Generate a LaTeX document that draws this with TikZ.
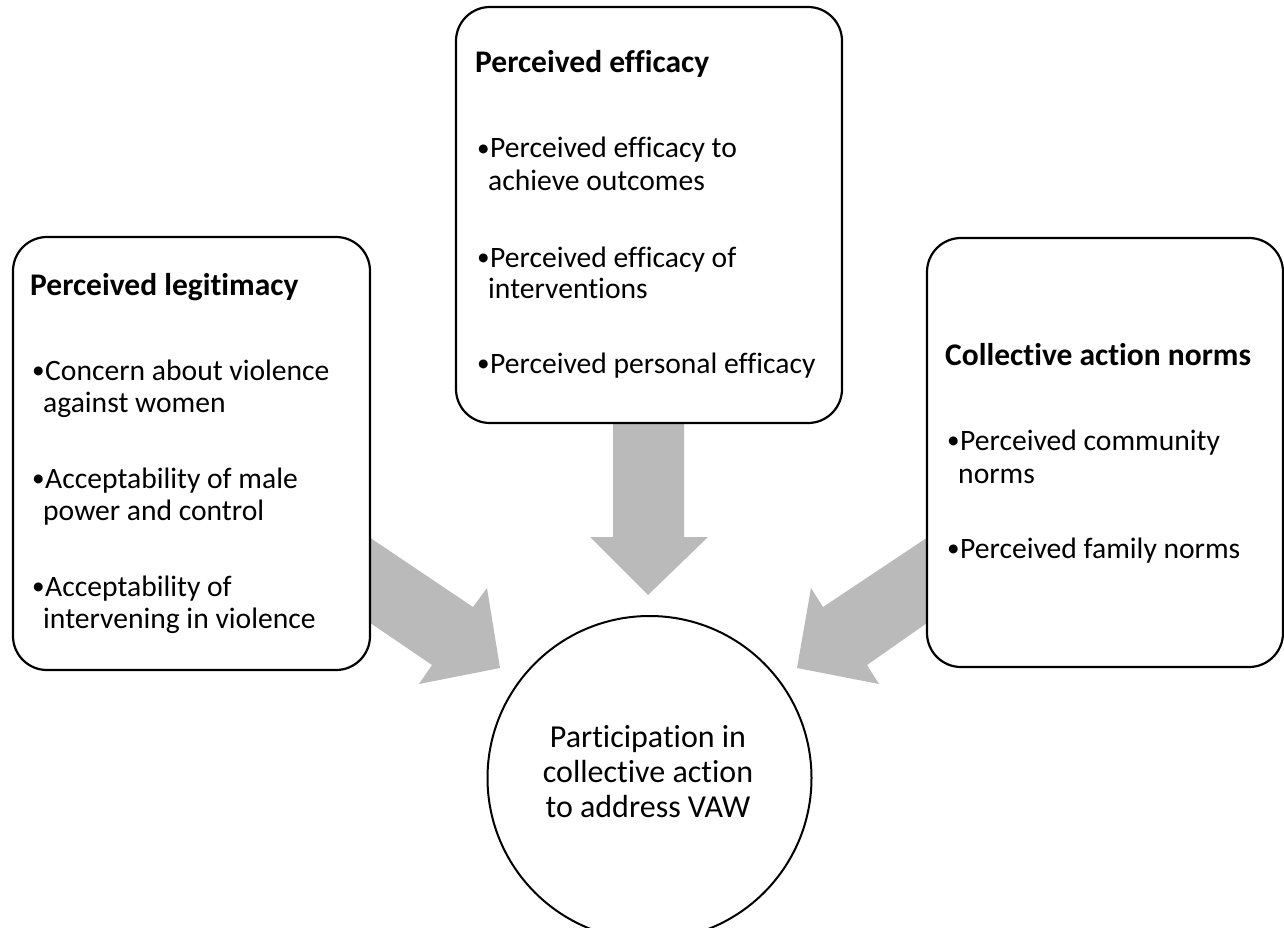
\documentclass[tikz,border=0pt]{standalone}
\usepackage{fontspec}
\usepackage{graphicx}
\setmainfont{Carlito}[Ligatures=NoCommon]
\newcommand\bul{\makebox[13pt][l]{\raisebox{1.5pt}{\scalebox{0.85}{•}}}}
\begin{document}
\begin{tikzpicture}[x=1pt,y=-1pt,
  box/.style={draw=black, line width=2.2pt, rounded corners=34pt, fill=white},
  ring/.style={draw=black, line width=2pt, circle, fill=white},
  ln/.style={anchor=base west, inner sep=0pt, font=\fontsize{29.6}{34}\selectfont},
  hd/.style={anchor=base west, inner sep=0pt, font=\fontsize{31.5}{36}\selectfont\bfseries},
  ct/.style={anchor=base, inner sep=0pt, font=\fontsize{32}{36}\selectfont},
  bigarrow/.style={fill=black!27, draw=none}]
\useasboundingbox (0,0) rectangle (1284,928);
% arrows (behind)
\fill[bigarrow] (360,531) -- (473,607) -- (487,588) -- (500,668) -- (419,684) -- (432,665) -- (360,616) -- cycle;
\fill[bigarrow] (613,410) -- (684,410) -- (684,537) -- (708,537) -- (648,595) -- (590,537) -- (613,537) -- cycle;
\fill[bigarrow] (937,531) -- (823,607) -- (811,588) -- (797,668) -- (879,684) -- (867,665) -- (937,616) -- cycle;
% boxes
\node[box, minimum width=357pt, minimum height=433pt] (legit) at (191.5,453.5) {};
\node[box, minimum width=386pt, minimum height=416pt] (effic) at (649,215) {};
\node[box, minimum width=356pt, minimum height=429pt] (norms) at (1105,452.5) {};
\node[ring, minimum size=324pt] (part) at (649.5,778) {};
% left texts
\node[hd] (l0) at (30,295) {Perceived legitimacy};
\node[ln] (l1) at (32,380) {\bul Concern about violence};
\node[ln] (l2) at (43,412) {against women};
\node[ln] (l3) at (32,488) {\bul Acceptability of male};
\node[ln] (l4) at (43,520) {power and control};
\node[ln] (l5) at (32,596) {\bul Acceptability of};
\node[ln] (l6) at (43,628) {intervening in violence};
% middle texts
\node[hd] (m0) at (475,73) {Perceived efficacy};
\node[ln] (m1) at (477,158) {\bul Perceived efficacy to};
\node[ln] (m2) at (488,190) {achieve outcomes};
\node[ln] (m3) at (477,267) {\bul Perceived efficacy of};
\node[ln] (m4) at (488,298) {interventions};
\node[ln] (m5) at (477,373) {\bul Perceived personal efficacy};
% right texts
\node[hd] (r0) at (945,365) {Collective action norms};
\node[ln] (r1) at (947,450) {\bul Perceived community};
\node[ln] (r2) at (958,483) {norms};
\node[ln] (r3) at (947,558) {\bul Perceived family norms};
% circle text
\node[ct] (c1) at (648,747) {Participation in};
\node[ct] (c2) at (648,782) {collective action};
\node[ct] (c3) at (648,817) {to address VAW};
\end{tikzpicture}
\end{document}
